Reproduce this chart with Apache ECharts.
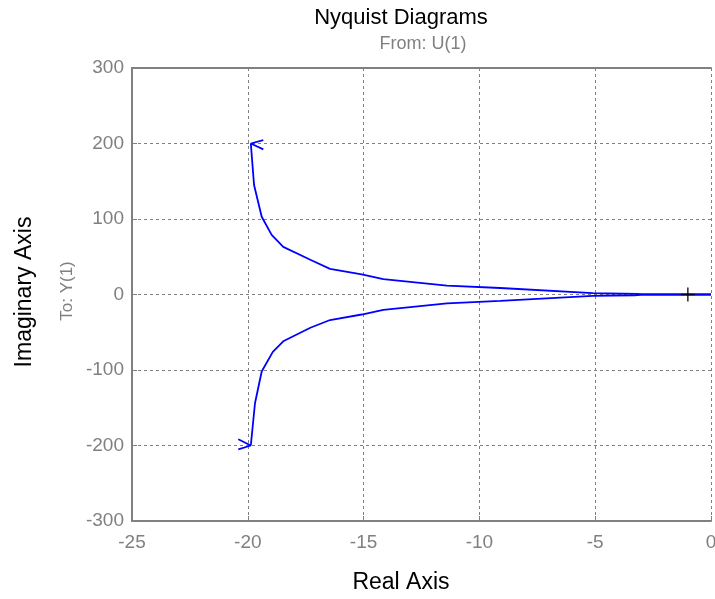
<!DOCTYPE html>
<html><head><meta charset="utf-8">
<script src="https://cdn.jsdelivr.net/npm/echarts@6/dist/echarts.min.js"></script>
<style>html,body{margin:0;padding:0;background:#fff}#c{width:715px;height:599px}</style>
</head><body><div id="c"></div>
<script>
// Upper branch (Im > 0), from arrow tip to origin
var upperRe = [-19.87, -19.73, -19.4, -18.97, -18.47, -17.3, -16.45, -15.08, -14.15, -11.4, -9.1, -5.1, -3.2, -2.9, 0];
var upperIm = [200, 145, 103, 79, 63, 46, 34, 26.8, 20.5, 11.7, 8.6, 1.7, 0.8, 0, 0];
// Lower branch (Im < 0), from arrow tip to origin
var lowerRe = [-19.87, -19.69, -19.4, -18.92, -18.47, -17.3, -16.45, -15.08, -14.15, -11.4, -9.1, -5.1, -3.3, -2.9, 0];
var lowerIm = [-200, -144, -102, -76, -62, -44, -33.8, -26.5, -20.5, -11.7, -8.4, -1.8, -1, 0, 0];
// Arrow chevrons: [arm end, tip, arm end]
var upperArrowRe = [-19.33, -19.87, -19.33];
var upperArrowIm = [204.6, 200, 192.3];
var lowerArrowRe = [-20.41, -19.87, -20.41];
var lowerArrowIm = [-191.8, -200, -205];
// Critical point
var critRe = [-1];
var critIm = [0];
// Axis ticks
var xTicks = [-25, -20, -15, -10, -5, 0];
var yTicks = [-300, -200, -100, 0, 100, 200, 300];

function zip(a, b) { return a.map(function (v, i) { return [v, b[i]]; }); }

var gray = '#808080';
var FONT = '"Liberation Sans", Arial, sans-serif';
var chart = echarts.init(document.getElementById('c'));
var lineStyle = { color: '#0000ff', width: 1.8 };
var lineSeries = function (re, im) {
  return { type: 'line', data: zip(re, im), showSymbol: false, symbol: 'none', lineStyle: lineStyle, animation: false, silent: true };
};
chart.setOption({
  animation: false,
  grid: { left: 132, right: 4, top: 68, bottom: 78, show: false, containLabel: false, outerBoundsMode: 'none' },
  xAxis: [{
    type: 'value', min: xTicks[0], max: xTicks[xTicks.length - 1], interval: 5,
    axisLine: { show: true, onZero: false, lineStyle: { color: gray, width: 2 } },
    axisTick: { show: true, inside: true, length: 5, lineStyle: { color: gray } },
    axisLabel: { color: gray, fontSize: 19, fontFamily: FONT, margin: 12, showMaxLabel: true, showMinLabel: true },
    splitLine: { show: true, lineStyle: { color: gray, type: [3, 3], width: 1 } }
  }, {
    type: 'value', position: 'top', min: xTicks[0], max: xTicks[xTicks.length - 1], interval: 5,
    axisLine: { show: true, onZero: false, lineStyle: { color: gray, width: 2 } },
    axisTick: { show: false }, axisLabel: { show: false }, splitLine: { show: false }
  }],
  yAxis: {
    type: 'value', min: yTicks[0], max: yTicks[yTicks.length - 1], interval: 100,
    axisLine: { show: true, onZero: false, lineStyle: { color: gray, width: 2 } },
    axisTick: { show: true, inside: true, length: 5, lineStyle: { color: gray } },
    axisLabel: { color: gray, fontSize: 19, fontFamily: FONT, margin: 8, showMaxLabel: true, showMinLabel: true },
    splitLine: { show: true, lineStyle: { color: gray, type: [3, 3], width: 1 } }
  },
  graphic: [
    { type: 'text', x: 401, y: 18, style: { text: 'Nyquist Diagrams', fill: '#000', font: '22px ' + FONT, align: 'center', verticalAlign: 'middle' } },
    { type: 'text', x: 423, y: 44, style: { text: 'From: U(1)', fill: gray, font: '18px ' + FONT, align: 'center', verticalAlign: 'middle' } },
    { type: 'text', x: 401, y: 583, style: { text: 'Real Axis', fill: '#000', font: '23px ' + FONT, align: 'center', verticalAlign: 'middle' } },
    { type: 'text', x: 25, y: 292, rotation: Math.PI / 2, style: { text: 'Imaginary Axis', fill: '#000', font: '23px ' + FONT, align: 'center', verticalAlign: 'middle' } },
    { type: 'text', x: 67, y: 291, rotation: Math.PI / 2, style: { text: 'To: Y(1)', fill: gray, font: '17px ' + FONT, align: 'center', verticalAlign: 'middle' } }
  ],
  series: [
    lineSeries(upperRe, upperIm),
    lineSeries(lowerRe, lowerIm),
    lineSeries(upperArrowRe, upperArrowIm),
    lineSeries(lowerArrowRe, lowerArrowIm),
    {
      type: 'scatter', data: zip(critRe, critIm), symbol: 'path://M5,0L5,10M0,5L10,5', symbolSize: 14,
      itemStyle: { color: 'none', borderColor: '#000', borderWidth: 1.6 }, silent: true, z: 5
    }
  ]
});
</script></body></html>
